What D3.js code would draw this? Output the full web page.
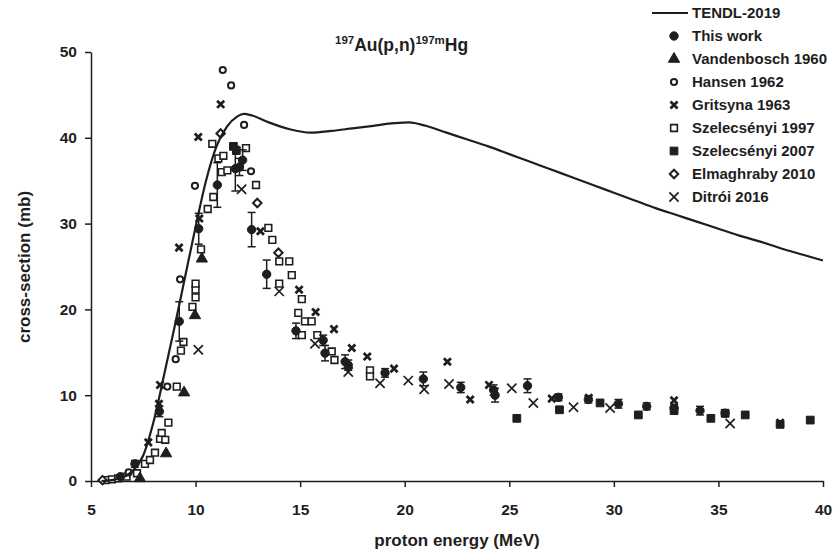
<!DOCTYPE html>
<html>
<head>
<meta charset="utf-8">
<script src="https://cdn.jsdelivr.net/npm/d3@7"></script>
<style>
  html, body { margin: 0; padding: 0; background: #fff; }
  svg { display: block; }
  text { font-family: "Liberation Sans", Arial, sans-serif; font-weight: bold; fill: #1e1e1e; }
</style>
</head>
<body>
<svg id="chart" width="836" height="551"></svg>
<script>
// TENDL-2019 evaluated excitation function
const tendlE  = [5.5, 6.0, 6.5, 7.0, 7.5, 8.0, 8.5, 9.0, 9.5, 10.0, 10.5, 11.0, 11.5, 12.0, 12.3, 12.7, 13.5, 14.5, 15.5, 16.5, 17.5, 18.5, 19.5, 20.2, 21.0, 22.0, 23.0, 24.0, 25.0, 26.0, 27.0, 28.0, 29.0, 30.0, 31.0, 32.0, 33.0, 34.0, 35.0, 36.0, 37.0, 38.0, 39.0, 40.0];
const tendlXS = [0.0, 0.1, 0.4, 1.2, 3.0, 7.0, 12.4, 18.0, 23.8, 29.6, 35.0, 39.0, 41.3, 42.5, 42.8, 42.6, 41.8, 41.0, 40.6, 40.8, 41.1, 41.4, 41.7, 41.8, 41.4, 40.6, 39.8, 39.0, 38.1, 37.2, 36.3, 35.4, 34.5, 33.6, 32.7, 31.8, 31.0, 30.2, 29.4, 28.6, 27.9, 27.1, 26.4, 25.7];

// Measured cross-sections: [energy MeV, cross-section mb]
const thisWork = [[6.4,0.5],[7.1,2.0],[8.27,8.1],[9.22,18.6],[10.15,29.4],[11.04,34.5],[11.9,36.4],[12.25,37.4],[12.1,36.6],[12.68,29.3],[13.4,24.1],[14.8,17.5],[16.19,14.9],[16.1,16.4],[17.15,13.9],[17.3,13.5],[19.06,12.6],[20.89,11.9],[22.68,10.9],[24.32,10.0],[24.25,10.6],[25.87,11.1],[27.35,9.75],[28.78,9.5],[30.22,9.0],[31.57,8.7],[32.88,8.5],[34.12,8.2],[35.32,7.9]];
const thisWorkErr = [0.2,0.4,0.6,2.3,1.8,2.6,2.6,1.2,1.0,2.0,1.65,0.9,0.9,0.6,0.8,0.6,0.5,0.8,0.6,0.8,0.6,0.8,0.4,0.4,0.5,0.4,0.4,0.5,0.4];
const vandenbosch1960 = [[7.34,0.3],[8.59,3.2],[9.45,10.3],[9.97,19.3],[10.3,25.9]];
const hansen1962 = [[6.8,1.0],[8.65,11.0],[9.05,14.2],[9.26,23.5],[9.97,34.4],[11.3,47.9],[11.7,46.1],[12.32,41.5],[12.65,36.1]];
const gritsyna1963 = [[7.74,4.5],[8.3,11.2],[8.25,9.0],[9.21,27.2],[10.18,30.6],[10.13,40.1],[11.2,43.9],[13.1,29.1],[14.95,22.3],[15.74,19.7],[16.62,17.7],[17.47,15.5],[18.21,14.5],[19.49,13.1],[22.04,13.9],[23.13,9.5],[24.03,11.2],[27.03,9.6],[28.8,9.7],[32.88,9.4],[37.95,6.8]];
const szelecsenyi1997 = [[5.7,0.1],[6.0,0.2],[6.3,0.3],[6.7,0.5],[7.2,0.9],[7.58,2.0],[7.82,2.45],[8.06,3.3],[8.3,4.9],[8.38,5.6],[8.55,4.8],[8.7,6.8],[9.1,11.0],[9.3,15.2],[9.42,16.2],[9.85,20.3],[10.0,21.4],[10.0,22.3],[10.0,23.0],[10.26,27.0],[10.58,31.7],[10.85,33.1],[10.8,39.3],[11.09,37.6],[11.33,37.9],[11.25,36.0],[11.52,36.2],[12.41,38.8],[12.89,34.5],[13.48,29.5],[13.67,28.1],[14.0,25.6],[14.48,25.6],[14.6,24.0],[14.0,23.0],[14.91,19.6],[15.08,21.2],[15.23,18.6],[15.55,18.6],[15.08,17.0],[15.82,17.0],[16.51,15.1],[16.64,14.1],[18.34,12.9],[18.34,12.2]];
const szelecsenyi2007 = [[11.81,39.0],[11.95,38.5],[25.36,7.3],[27.4,8.3],[29.34,9.1],[31.17,7.7],[32.88,8.2],[34.64,7.3],[35.32,7.9],[36.28,7.7],[37.95,6.6],[39.39,7.1]];
const elmaghraby2010 = [[5.55,0.1],[11.2,40.5],[12.95,32.4],[13.96,26.6]];
const ditroi2016 = [[10.13,15.3],[12.2,34.0],[14.0,22.1],[15.71,16.0],[17.3,12.7],[18.82,11.4],[20.17,11.7],[20.93,10.7],[22.12,11.3],[25.12,10.8],[26.15,9.1],[28.07,8.6],[29.82,8.5],[35.56,6.7]];

const xTicks = [5, 10, 15, 20, 25, 30, 35, 40];
const yTicks = [0, 10, 20, 30, 40, 50];
const legendLabels = ["TENDL-2019", "This work", "Vandenbosch 1960", "Hansen 1962", "Gritsyna 1963", "Szelecsényi 1997", "Szelecsényi 2007", "Elmaghraby 2010", "Ditrói 2016"];

const ink = "#1e1e1e";
const svg = d3.select("#chart");
const x = d3.scaleLinear().domain([5, 40]).range([91, 823]);
const y = d3.scaleLinear().domain([0, 50]).range([481, 52]);

// axes
const xAxis = svg.append("g").attr("transform", "translate(0,481)")
  .call(d3.axisBottom(x).tickValues(xTicks).tickSize(6).tickSizeOuter(0).tickPadding(17));
const yAxis = svg.append("g").attr("transform", "translate(91,0)")
  .call(d3.axisLeft(y).tickValues(yTicks).tickSize(6).tickSizeOuter(0).tickPadding(8));
[xAxis, yAxis].forEach(g => {
  g.selectAll("path, line").attr("stroke", ink).attr("stroke-width", 1.5);
  g.selectAll("text").attr("font-size", 15.5).attr("fill", ink)
    .attr("font-family", "Liberation Sans, Arial, sans-serif").attr("font-weight", "bold");
});

// axis titles
svg.append("text").attr("x", 457).attr("y", 546).attr("text-anchor", "middle")
  .attr("font-size", 17).text("proton energy (MeV)");
svg.append("text").attr("transform", "translate(30,267) rotate(-90)").attr("text-anchor", "middle")
  .attr("font-size", 17).text("cross-section (mb)");

// reaction title
const title = svg.append("text").attr("x", 335).attr("y", 51).attr("font-size", 17.5);
title.append("tspan").attr("font-size", 11.5).attr("dy", -7).text("197");
title.append("tspan").attr("dy", 7).text("Au(p,n)");
title.append("tspan").attr("font-size", 11.5).attr("dy", -7).text("197m");
title.append("tspan").attr("dy", 7).text("Hg");

// marker shapes
const crossShape = {
  draw(ctx, size) {
    const r = Math.sqrt(size) / 2;
    ctx.moveTo(-r, -r); ctx.lineTo(r, r);
    ctx.moveTo(r, -r); ctx.lineTo(-r, r);
  }
};
const squareDiamond = {
  draw(ctx, size) {
    const r = Math.sqrt(size / 2);
    ctx.moveTo(0, -r); ctx.lineTo(r, 0); ctx.lineTo(0, r); ctx.lineTo(-r, 0); ctx.closePath();
  }
};
const styles = {
  thisWork:   { type: d3.symbolCircle,   size: 55, fill: ink, stroke: ink, sw: 1 },
  vanden:     { type: d3.symbolTriangle, size: 55, fill: ink, stroke: ink, sw: 1 },
  hansen:     { type: d3.symbolCircle,   size: 30, fill: "#fff", stroke: ink, sw: 2 },
  gritsyna:   { type: crossShape,        size: 50, fill: "none", stroke: ink, sw: 2.8 },
  szel97:     { type: d3.symbolSquare,   size: 45, fill: "#fff", stroke: ink, sw: 1.6 },
  szel07:     { type: d3.symbolSquare,   size: 60, fill: ink, stroke: ink, sw: 1 },
  elmag:      { type: squareDiamond,     size: 36, fill: "#fff", stroke: ink, sw: 2 },
  ditroi:     { type: crossShape,        size: 85, fill: "none", stroke: ink, sw: 1.7 }
};

function drawSeries(data, st) {
  const sym = d3.symbol().type(st.type).size(st.size);
  svg.append("g").selectAll("path").data(data).join("path")
    .attr("transform", d => `translate(${x(d[0])},${y(d[1])})`)
    .attr("d", sym())
    .attr("fill", st.fill).attr("stroke", st.stroke).attr("stroke-width", st.sw);
}

drawSeries(szelecsenyi1997, styles.szel97);
drawSeries(hansen1962, styles.hansen);
drawSeries(elmaghraby2010, styles.elmag);
drawSeries(vandenbosch1960, styles.vanden);
drawSeries(szelecsenyi2007, styles.szel07);
drawSeries(gritsyna1963, styles.gritsyna);
drawSeries(ditroi2016, styles.ditroi);

// this work: error bars then points
const eb = svg.append("g").attr("stroke", ink).attr("stroke-width", 1.5);
thisWork.forEach((d, i) => {
  const e = thisWorkErr[i];
  const cx = x(d[0]), y1 = y(d[1] - e), y2 = y(d[1] + e);
  eb.append("line").attr("x1", cx).attr("x2", cx).attr("y1", y1).attr("y2", y2);
  eb.append("line").attr("x1", cx - 4).attr("x2", cx + 4).attr("y1", y1).attr("y2", y1);
  eb.append("line").attr("x1", cx - 4).attr("x2", cx + 4).attr("y1", y2).attr("y2", y2);
});
drawSeries(thisWork, styles.thisWork);

// TENDL curve
const line = d3.line().x(d => x(d[0])).y(d => y(d[1])).curve(d3.curveMonotoneX);
svg.append("path").datum(d3.zip(tendlE, tendlXS))
  .attr("d", line).attr("fill", "none").attr("stroke", ink).attr("stroke-width", 2.2);

// legend
const lg = svg.append("g");
const rowY = i => 13 + i * 23;
lg.append("line").attr("x1", 652).attr("x2", 688).attr("y1", rowY(0)).attr("y2", rowY(0))
  .attr("stroke", ink).attr("stroke-width", 2.2);
const legendStyles = [styles.thisWork, styles.vanden, styles.hansen, styles.gritsyna, styles.szel97, styles.szel07, styles.elmag, styles.ditroi];
legendStyles.forEach((st, i) => {
  const sym = d3.symbol().type(st.type).size(st.size);
  lg.append("path").attr("transform", `translate(674,${rowY(i + 1)})`).attr("d", sym())
    .attr("fill", st.fill).attr("stroke", st.stroke).attr("stroke-width", st.sw);
});
legendLabels.forEach((t, i) => {
  lg.append("text").attr("x", 692).attr("y", rowY(i)).attr("dy", "0.36em")
    .attr("font-size", 15).text(t);
});
</script>
</body>
</html>
